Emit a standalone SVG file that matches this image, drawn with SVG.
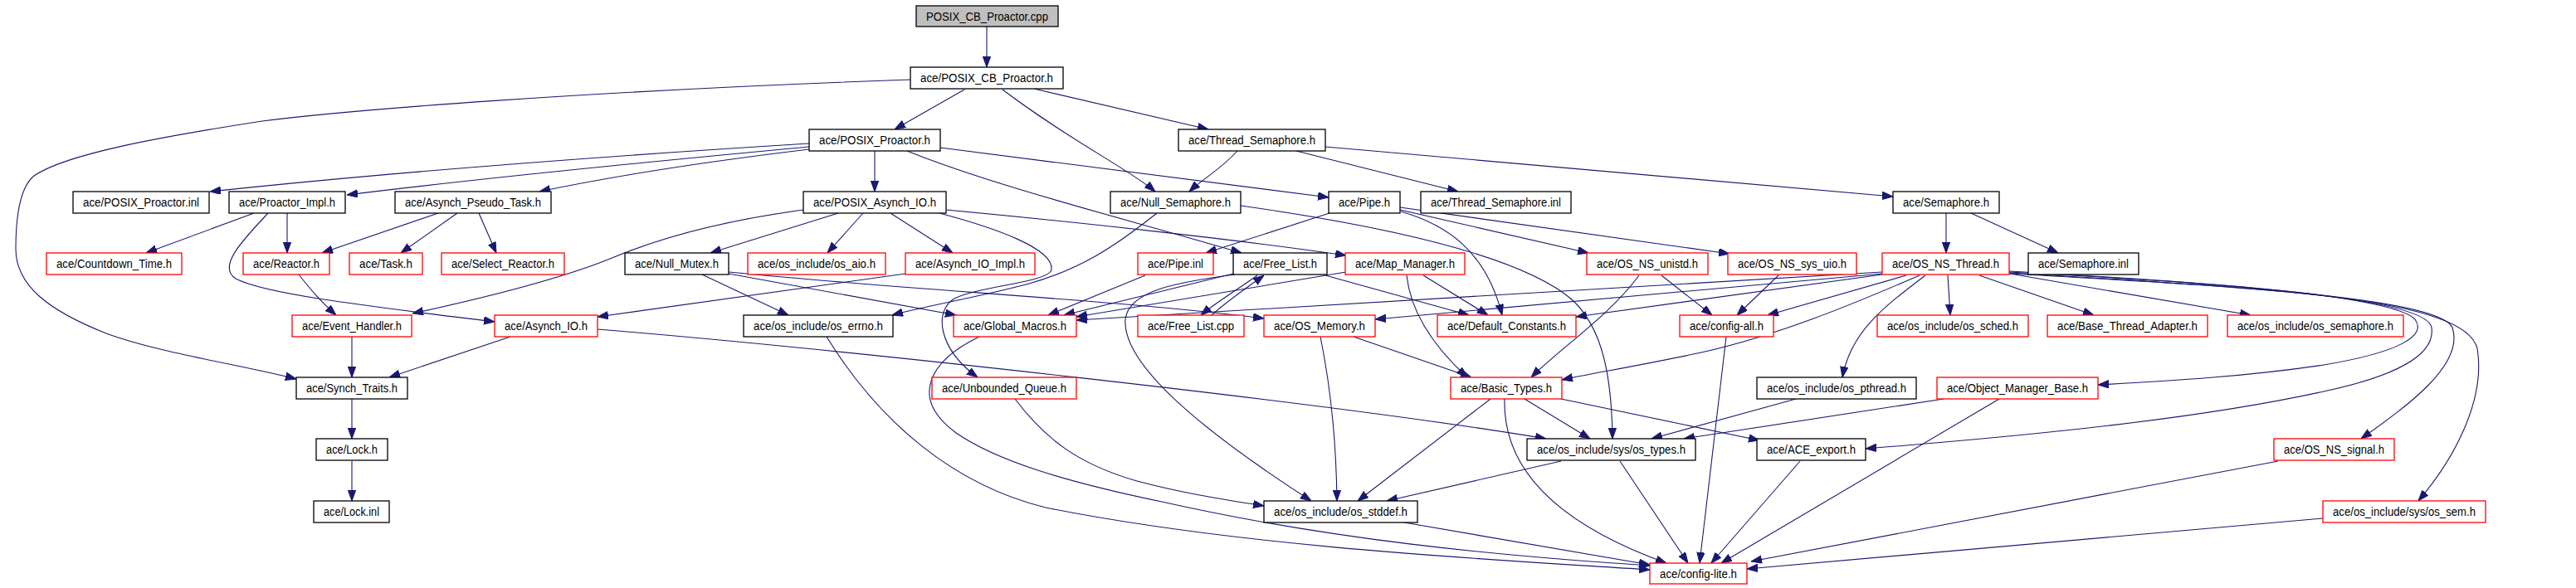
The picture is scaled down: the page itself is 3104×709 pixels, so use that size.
<svg xmlns="http://www.w3.org/2000/svg" width="3104" height="709" viewBox="0 0 3104 709">
<style>
.node rect{fill:#ffffff;stroke:#000000;stroke-width:1.3}
.node.red rect{stroke:#ff0000}
.node.root rect{fill:#bfbfbf}
.node text{font-family:"Liberation Sans",Arial,sans-serif;font-size:14px;text-anchor:middle;fill:#000000}
.edges path{fill:none;stroke:#191970;stroke-width:1.1;marker-end:url(#arr)}
</style>
<defs>
<marker id="arr" markerUnits="userSpaceOnUse" markerWidth="13" markerHeight="10" refX="13" refY="4.7" orient="auto">
<path d="M0,0 L13,4.7 L0,9.4 z" fill="#191970" stroke="#191970" stroke-width="1"/>
</marker>
</defs>
<rect width="3104" height="709" fill="#ffffff"/>
<g class="edges">
<path d="M1189,32 L1189,81"/>
<path d="M1162,108 L1078,156"/>
<path d="M1208,108 C1290,170 1362,205 1392,231"/>
<path d="M1246,107 L1456,156"/>
<path d="M1097,96 C700,110 420,133 316,146 C200,164 80,185 41,212 C25,225 19,255 19,300 C19,345 60,375 128,402 C190,425 290,440 357,457"/>
<path d="M975,173 C700,190 450,210 253,231"/>
<path d="M975,177 C750,198 580,215 418,235"/>
<path d="M975,180 C850,195 750,210 650,231"/>
<path d="M1054,182 L1054,231"/>
<path d="M1133,178 L1601,238"/>
<path d="M1093,182 C1200,225 1350,262 1496,305"/>
<path d="M1491,182 C1470,205 1450,215 1433,231"/>
<path d="M1562,182 L1757,231"/>
<path d="M1597,177 L2281,237"/>
<path d="M306,257 L176,305"/>
<path d="M346,257 L346,305"/>
<path d="M323,257 C290,292 262,322 284,336 C320,355 450,370 596,388"/>
<path d="M528,257 L388,305"/>
<path d="M551,257 L483,305"/>
<path d="M577,257 L598,305"/>
<path d="M968,253 C880,265 800,285 740,310 C680,335 580,360 497,378"/>
<path d="M1010,257 L856,305"/>
<path d="M1040,257 L997,305"/>
<path d="M1073,257 L1148,305"/>
<path d="M1132,257 C1200,275 1270,300 1267,325 C1265,340 1180,345 1150,360 C1125,375 1130,420 1178,455"/>
<path d="M1140,253 C1300,268 1500,290 1622,308"/>
<path d="M1394,257 C1340,300 1300,325 1240,342 C1180,358 1120,368 1075,380"/>
<path d="M1495,248 C1650,270 1830,305 1895,362 C1930,395 1942,450 1943,529"/>
<path d="M1602,257 L1453,305"/>
<path d="M1687,253 L1914,305"/>
<path d="M1687,250 L2084,306"/>
<path d="M1688,255 C1740,270 1790,300 1810,380"/>
<path d="M2345,257 L2345,305"/>
<path d="M2375,257 L2480,305"/>
<path d="M360,331 C375,350 385,362 405,380"/>
<path d="M846,331 L950,380"/>
<path d="M878,330 L1152,380"/>
<path d="M878,328 C1100,350 1350,362 1523,384"/>
<path d="M1091,330 L720,382"/>
<path d="M615,406 L469,455"/>
<path d="M720,397 C1000,420 1600,485 1863,529"/>
<path d="M424,406 L424,455"/>
<path d="M424,481 L424,529"/>
<path d="M424,556 L424,604"/>
<path d="M996,406 C1060,510 1150,585 1260,612 C1500,660 1800,675 1988,687"/>
<path d="M1180,406 C1120,435 1095,480 1152,522 C1200,555 1280,580 1400,605 C1600,650 1800,670 1988,682"/>
<path d="M1380,332 L1263,380"/>
<path d="M1486,330 L1282,380"/>
<path d="M1515,332 C1490,350 1465,365 1447,380"/>
<path d="M1460,380 C1480,362 1505,345 1523,332"/>
<path d="M1597,332 L1770,380"/>
<path d="M1488,331 C1420,340 1360,350 1356,385 C1352,440 1450,520 1580,604"/>
<path d="M1622,328 L1297,382"/>
<path d="M1715,332 L1793,380"/>
<path d="M1695,332 C1700,380 1730,420 1768,455"/>
<path d="M2268,328 L1297,386"/>
<path d="M2268,330 L1657,385"/>
<path d="M2268,331 L1899,382"/>
<path d="M2297,332 L2130,380"/>
<path d="M2313,332 C2230,368 2140,405 2050,425 C1980,440 1920,450 1882,458"/>
<path d="M2320,332 C2270,370 2230,400 2220,455"/>
<path d="M2347,332 L2350,380"/>
<path d="M2385,332 L2523,380"/>
<path d="M2422,330 L2712,380"/>
<path d="M2421,327 C2650,340 2880,355 2910,385 C2925,405 2890,425 2800,440 C2700,455 2600,460 2528,464"/>
<path d="M2421,328 C2700,342 2925,360 2930,395 C2935,430 2880,455 2800,472 C2650,505 2450,525 2248,541"/>
<path d="M2421,329 C2700,345 2940,360 2955,395 C2970,440 2900,490 2845,529"/>
<path d="M2421,330 C2750,348 2970,360 2985,420 C2995,480 2960,550 2914,604"/>
<path d="M2002,332 L2063,380"/>
<path d="M1975,332 C1940,380 1880,420 1845,455"/>
<path d="M2143,332 L2093,380"/>
<path d="M2080,406 L2048,679"/>
<path d="M1591,406 C1600,450 1610,520 1611,604"/>
<path d="M1631,406 L1773,455"/>
<path d="M1223,481 C1260,530 1300,560 1370,580 C1430,596 1480,603 1523,610"/>
<path d="M1796,481 L1636,604"/>
<path d="M1813,481 C1810,580 1900,640 2008,679"/>
<path d="M1837,481 L1916,529"/>
<path d="M1881,481 L2120,531"/>
<path d="M2164,481 L1990,529"/>
<path d="M2342,481 L2029,529"/>
<path d="M2409,481 L2074,679"/>
<path d="M1881,556 L1671,604"/>
<path d="M1952,556 L2034,679"/>
<path d="M2169,556 L2062,679"/>
<path d="M1692,630 L1988,681"/>
<path d="M2745,556 L2110,677"/>
<path d="M2799,625 L2105,686"/>
</g>
<g id="n_cpp" class="node root"><rect x="1104" y="7" width="171" height="25"/><text x="1189.5" y="24.5" textLength="147" lengthAdjust="spacingAndGlyphs">POSIX_CB_Proactor.cpp</text></g>
<g id="n_cb_h" class="node"><rect x="1097" y="81" width="184" height="26"/><text x="1189" y="99" textLength="160" lengthAdjust="spacingAndGlyphs">ace/POSIX_CB_Proactor.h</text></g>
<g id="n_posix_proactor_h" class="node"><rect x="975" y="156" width="158" height="26"/><text x="1054" y="174" textLength="134" lengthAdjust="spacingAndGlyphs">ace/POSIX_Proactor.h</text></g>
<g id="n_thread_sem_h" class="node"><rect x="1420" y="156" width="177" height="26"/><text x="1508.5" y="174" textLength="153" lengthAdjust="spacingAndGlyphs">ace/Thread_Semaphore.h</text></g>
<g id="n_posix_proactor_inl" class="node"><rect x="88" y="231" width="164" height="26"/><text x="170" y="249" textLength="140" lengthAdjust="spacingAndGlyphs">ace/POSIX_Proactor.inl</text></g>
<g id="n_proactor_impl" class="node"><rect x="276" y="231" width="140" height="26"/><text x="346" y="249" textLength="116" lengthAdjust="spacingAndGlyphs">ace/Proactor_Impl.h</text></g>
<g id="n_asynch_pseudo" class="node"><rect x="476" y="231" width="188" height="26"/><text x="570" y="249" textLength="164" lengthAdjust="spacingAndGlyphs">ace/Asynch_Pseudo_Task.h</text></g>
<g id="n_posix_asynch_io" class="node"><rect x="968" y="231" width="172" height="26"/><text x="1054" y="249" textLength="148" lengthAdjust="spacingAndGlyphs">ace/POSIX_Asynch_IO.h</text></g>
<g id="n_null_sem" class="node"><rect x="1338" y="231" width="157" height="26"/><text x="1416.5" y="249" textLength="133" lengthAdjust="spacingAndGlyphs">ace/Null_Semaphore.h</text></g>
<g id="n_pipe_h" class="node"><rect x="1601" y="231" width="86" height="26"/><text x="1644" y="249" textLength="62" lengthAdjust="spacingAndGlyphs">ace/Pipe.h</text></g>
<g id="n_thread_sem_inl" class="node"><rect x="1712" y="231" width="181" height="26"/><text x="1802.5" y="249" textLength="157" lengthAdjust="spacingAndGlyphs">ace/Thread_Semaphore.inl</text></g>
<g id="n_semaphore_h" class="node"><rect x="2281" y="231" width="128" height="26"/><text x="2345" y="249" textLength="104" lengthAdjust="spacingAndGlyphs">ace/Semaphore.h</text></g>
<g id="n_countdown" class="node red"><rect x="56" y="305" width="163" height="26"/><text x="137.5" y="323" textLength="139" lengthAdjust="spacingAndGlyphs">ace/Countdown_Time.h</text></g>
<g id="n_reactor" class="node red"><rect x="293" y="305" width="104" height="26"/><text x="345" y="323" textLength="80" lengthAdjust="spacingAndGlyphs">ace/Reactor.h</text></g>
<g id="n_task" class="node red"><rect x="421" y="305" width="88" height="26"/><text x="465" y="323" textLength="64" lengthAdjust="spacingAndGlyphs">ace/Task.h</text></g>
<g id="n_select_reactor" class="node red"><rect x="532" y="305" width="148" height="26"/><text x="606" y="323" textLength="124" lengthAdjust="spacingAndGlyphs">ace/Select_Reactor.h</text></g>
<g id="n_null_mutex" class="node"><rect x="753" y="305" width="125" height="26"/><text x="815.5" y="323" textLength="101" lengthAdjust="spacingAndGlyphs">ace/Null_Mutex.h</text></g>
<g id="n_os_aio" class="node red"><rect x="901" y="305" width="166" height="26"/><text x="984" y="323" textLength="142" lengthAdjust="spacingAndGlyphs">ace/os_include/os_aio.h</text></g>
<g id="n_asynch_io_impl" class="node red"><rect x="1091" y="305" width="156" height="26"/><text x="1169" y="323" textLength="132" lengthAdjust="spacingAndGlyphs">ace/Asynch_IO_Impl.h</text></g>
<g id="n_pipe_inl" class="node red"><rect x="1371" y="305" width="91" height="26"/><text x="1416.5" y="323" textLength="67" lengthAdjust="spacingAndGlyphs">ace/Pipe.inl</text></g>
<g id="n_free_list_h" class="node"><rect x="1486" y="305" width="113" height="26"/><text x="1542.5" y="323" textLength="89" lengthAdjust="spacingAndGlyphs">ace/Free_List.h</text></g>
<g id="n_map_manager" class="node red"><rect x="1621" y="305" width="144" height="26"/><text x="1693" y="323" textLength="120" lengthAdjust="spacingAndGlyphs">ace/Map_Manager.h</text></g>
<g id="n_os_ns_unistd" class="node red"><rect x="1912" y="305" width="146" height="26"/><text x="1985" y="323" textLength="122" lengthAdjust="spacingAndGlyphs">ace/OS_NS_unistd.h</text></g>
<g id="n_os_ns_sys_uio" class="node red"><rect x="2082" y="305" width="155" height="26"/><text x="2159.5" y="323" textLength="131" lengthAdjust="spacingAndGlyphs">ace/OS_NS_sys_uio.h</text></g>
<g id="n_os_ns_thread" class="node red"><rect x="2268" y="305" width="153" height="26"/><text x="2344.5" y="323" textLength="129" lengthAdjust="spacingAndGlyphs">ace/OS_NS_Thread.h</text></g>
<g id="n_semaphore_inl" class="node"><rect x="2444" y="305" width="133" height="26"/><text x="2510.5" y="323" textLength="109" lengthAdjust="spacingAndGlyphs">ace/Semaphore.inl</text></g>
<g id="n_event_handler" class="node red"><rect x="352" y="380" width="144" height="26"/><text x="424" y="398" textLength="120" lengthAdjust="spacingAndGlyphs">ace/Event_Handler.h</text></g>
<g id="n_asynch_io" class="node red"><rect x="596" y="380" width="124" height="26"/><text x="658" y="398" textLength="100" lengthAdjust="spacingAndGlyphs">ace/Asynch_IO.h</text></g>
<g id="n_os_errno" class="node"><rect x="896" y="380" width="180" height="26"/><text x="986" y="398" textLength="156" lengthAdjust="spacingAndGlyphs">ace/os_include/os_errno.h</text></g>
<g id="n_global_macros" class="node red"><rect x="1149" y="380" width="148" height="26"/><text x="1223" y="398" textLength="124" lengthAdjust="spacingAndGlyphs">ace/Global_Macros.h</text></g>
<g id="n_free_list_cpp" class="node red"><rect x="1371" y="380" width="128" height="26"/><text x="1435" y="398" textLength="104" lengthAdjust="spacingAndGlyphs">ace/Free_List.cpp</text></g>
<g id="n_os_memory" class="node red"><rect x="1523" y="380" width="134" height="26"/><text x="1590" y="398" textLength="110" lengthAdjust="spacingAndGlyphs">ace/OS_Memory.h</text></g>
<g id="n_default_constants" class="node red"><rect x="1732" y="380" width="167" height="26"/><text x="1815.5" y="398" textLength="143" lengthAdjust="spacingAndGlyphs">ace/Default_Constants.h</text></g>
<g id="n_config_all" class="node red"><rect x="2024" y="380" width="113" height="26"/><text x="2080.5" y="398" textLength="89" lengthAdjust="spacingAndGlyphs">ace/config-all.h</text></g>
<g id="n_os_sched" class="node red"><rect x="2262" y="380" width="182" height="26"/><text x="2353" y="398" textLength="158" lengthAdjust="spacingAndGlyphs">ace/os_include/os_sched.h</text></g>
<g id="n_base_thread_adapter" class="node red"><rect x="2467" y="380" width="193" height="26"/><text x="2563.5" y="398" textLength="169" lengthAdjust="spacingAndGlyphs">ace/Base_Thread_Adapter.h</text></g>
<g id="n_os_semaphore" class="node red"><rect x="2684" y="380" width="212" height="26"/><text x="2790" y="398" textLength="188" lengthAdjust="spacingAndGlyphs">ace/os_include/os_semaphore.h</text></g>
<g id="n_synch_traits" class="node"><rect x="357" y="455" width="134" height="26"/><text x="424" y="473" textLength="110" lengthAdjust="spacingAndGlyphs">ace/Synch_Traits.h</text></g>
<g id="n_unbounded_queue" class="node red"><rect x="1123" y="455" width="174" height="26"/><text x="1210" y="473" textLength="150" lengthAdjust="spacingAndGlyphs">ace/Unbounded_Queue.h</text></g>
<g id="n_basic_types" class="node red"><rect x="1748" y="455" width="134" height="26"/><text x="1815" y="473" textLength="110" lengthAdjust="spacingAndGlyphs">ace/Basic_Types.h</text></g>
<g id="n_os_pthread" class="node"><rect x="2117" y="455" width="192" height="26"/><text x="2213" y="473" textLength="168" lengthAdjust="spacingAndGlyphs">ace/os_include/os_pthread.h</text></g>
<g id="n_object_manager_base" class="node red"><rect x="2334" y="455" width="194" height="26"/><text x="2431" y="473" textLength="170" lengthAdjust="spacingAndGlyphs">ace/Object_Manager_Base.h</text></g>
<g id="n_lock_h" class="node"><rect x="381" y="529" width="86" height="26"/><text x="424" y="547" textLength="62" lengthAdjust="spacingAndGlyphs">ace/Lock.h</text></g>
<g id="n_os_types" class="node"><rect x="1840" y="529" width="203" height="26"/><text x="1941.5" y="547" textLength="179" lengthAdjust="spacingAndGlyphs">ace/os_include/sys/os_types.h</text></g>
<g id="n_ace_export" class="node"><rect x="2117" y="529" width="131" height="26"/><text x="2182.5" y="547" textLength="107" lengthAdjust="spacingAndGlyphs">ace/ACE_export.h</text></g>
<g id="n_os_ns_signal" class="node red"><rect x="2740" y="529" width="145" height="26"/><text x="2812.5" y="547" textLength="121" lengthAdjust="spacingAndGlyphs">ace/OS_NS_signal.h</text></g>
<g id="n_lock_inl" class="node"><rect x="378" y="604" width="91" height="26"/><text x="423.5" y="622" textLength="67" lengthAdjust="spacingAndGlyphs">ace/Lock.inl</text></g>
<g id="n_os_stddef" class="node"><rect x="1523" y="604" width="185" height="26"/><text x="1615.5" y="622" textLength="161" lengthAdjust="spacingAndGlyphs">ace/os_include/os_stddef.h</text></g>
<g id="n_os_sem" class="node red"><rect x="2799" y="604" width="196" height="26"/><text x="2897" y="622" textLength="172" lengthAdjust="spacingAndGlyphs">ace/os_include/sys/os_sem.h</text></g>
<g id="n_config_lite" class="node red"><rect x="1988" y="679" width="117" height="25"/><text x="2046.5" y="696.5" textLength="93" lengthAdjust="spacingAndGlyphs">ace/config-lite.h</text></g>
</svg>
